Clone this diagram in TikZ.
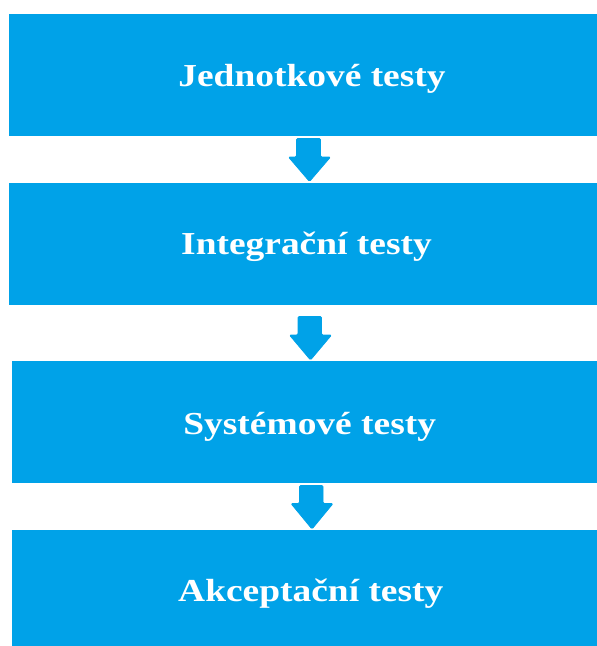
\documentclass[tikz,border=0pt]{standalone}
\usepackage{fontspec}
\setmainfont{Liberation Serif}
\definecolor{stageblue}{RGB}{0,162,232}
% wide bold label text
\newcommand{\stagetext}[1]{\scalebox{1.17}[1]{#1}}
\begin{document}
\begin{tikzpicture}[x=1pt,y=-1pt,
  stagebox/.style={fill=stageblue,draw=none},
  stagelabel/.style={anchor=base,text=white,font=\bfseries\fontsize{32}{38}\selectfont,inner sep=0pt},
  flowarrow/.style={fill=stageblue,draw=stageblue,line width=0.8pt,rounded corners=1.2pt}]
  \useasboundingbox (0,0) rectangle (597,646);
  \begin{scope}
    \clip (0,0) rectangle (597,646);
    % four stage boxes
    \path[stagebox] (9,14) rectangle (612,136);
    \path[stagebox] (9,183) rectangle (612,305);
    \path[stagebox] (11.5,361) rectangle (612,483.3);
    \path[stagebox] (11.5,529.5) rectangle (612,652);
  \end{scope}
  \node[stagelabel] (s1) at (312,86) {\stagetext{Jednotkové testy}};
  \node[stagelabel] (s2) at (306.5,254.3) {\stagetext{Integrační testy}};
  \node[stagelabel] (s3) at (309.7,434.3) {\stagetext{Systémové testy}};
  \node[stagelabel] (s4) at (310.8,601) {\stagetext{Akceptační testy}};
  % block arrows between the stages
  \path[flowarrow] (296.5,138.5) -- (320.5,138.5) -- (320.5,157) -- (330.5,157)
    -- (309.5,181.5) -- (288.5,157) -- (296.5,157) -- cycle;
  \path[flowarrow] (298,316.5) -- (321.5,316.5) -- (321.5,335) -- (331.5,335)
    -- (310.5,360) -- (289.5,335) -- (298,335) -- cycle;
  \path[flowarrow] (299.5,485.5) -- (323,485.5) -- (323,503.5) -- (333,503.5)
    -- (312,529) -- (291,503.5) -- (299.5,503.5) -- cycle;
\end{tikzpicture}
\end{document}
